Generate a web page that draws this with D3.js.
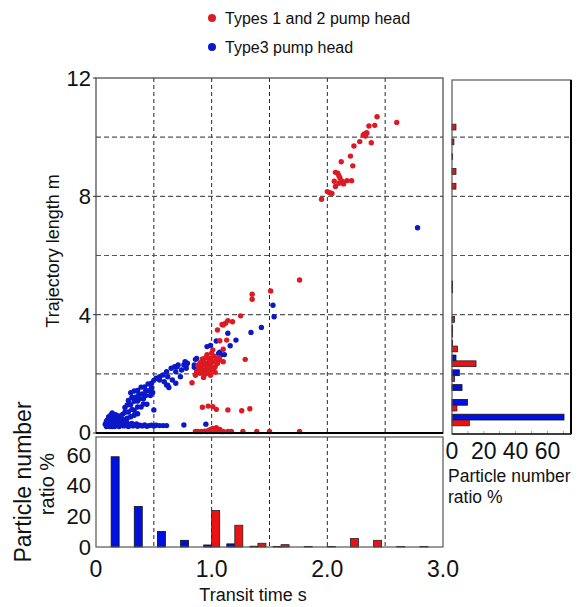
<!DOCTYPE html>
<html><head><meta charset="utf-8">
<script src="https://cdn.jsdelivr.net/npm/d3@7"></script>
<style>body{margin:0;background:#fff}svg{display:block}text{font-family:"Liberation Sans",Arial,sans-serif;fill:#111}</style>
</head><body><svg id="c" width="587" height="607"></svg>
<script>
// ---------- DATA ----------
const seriesNames = ["Types 1 and 2 pump head", "Type3 pump head"];
const redPoints = [
[2.43,10.69],[2.60,10.50],[2.41,10.40],[2.36,10.38],[2.34,10.13],[2.32,10.11],[2.34,10.15],[2.31,10.07],[2.33,10.04],[2.38,9.81],
[2.28,9.85],[2.23,9.70],[2.20,9.36],[2.12,9.17],[2.22,9.03],[2.07,8.81],[2.09,8.78],[2.10,8.70],[2.11,8.61],[2.17,8.53],
[2.21,8.53],[2.06,8.51],[2.13,8.50],[2.14,8.42],[2.10,8.44],[2.07,8.33],[2.00,8.16],[2.02,8.12],[2.04,8.10],[1.95,7.90],
[1.76,5.17],[1.51,4.80],[1.35,4.69],[1.35,4.52],[1.25,3.96],[1.18,3.76],[1.14,3.80],[1.12,3.71],[1.09,3.67],[1.10,3.65],
[1.05,3.48],[1.13,3.14],[1.07,3.12],[1.01,2.81],[1.10,2.83],[1.29,2.49],[0.83,1.70],
[1.02,2.60],[1.04,2.49],[0.99,2.52],[0.97,2.38],[0.93,2.41],[0.91,2.24],[0.89,2.15],[0.94,2.13],[0.96,2.24],[0.99,2.32],
[1.00,2.13],[0.90,2.02],[0.87,2.07],[0.93,1.88],[0.97,2.02],[1.01,2.41],[1.10,2.41],[1.03,2.24],
[0.95,2.30],[0.92,2.32],[0.98,2.45],[0.95,2.55],[1.00,2.70],[0.96,2.65],[0.91,2.10],[0.88,2.28],[0.94,1.98],[0.98,2.18],
[1.02,2.20],[1.05,2.35],[1.03,2.05],[0.86,1.95],[0.92,2.50],[0.99,1.95],[1.06,2.55],[0.90,2.38],[0.95,2.08],[1.07,2.47],
[0.92,0.87],[0.97,0.91],[1.01,0.89],[1.04,0.80],[1.14,0.78],[1.26,0.75],[1.33,0.82],
[0.86,0.05],[0.88,0.05],[0.91,0.05],[0.94,0.06],[0.97,0.08],[0.99,0.12],[1.01,0.15],[1.04,0.18],[1.07,0.12],[1.10,0.05],
[1.14,0.05],[1.17,0.05],[1.27,0.05],[1.39,0.05],[1.50,0.05],[1.76,0.05],[0.96,0.05],[1.02,0.05],[1.05,0.06],[1.08,0.05]
];
const bluePoints = [
[0.09,0.22],[0.10,0.28],[0.11,0.35],[0.12,0.22],[0.12,0.42],[0.13,0.30],[0.13,0.50],[0.14,0.22],[0.14,0.38],[0.15,0.28],
[0.15,0.45],[0.16,0.55],[0.16,0.22],[0.17,0.33],[0.17,0.62],[0.18,0.25],[0.18,0.42],[0.19,0.50],[0.19,0.30],[0.20,0.22],
[0.20,0.58],[0.21,0.38],[0.22,0.26],[0.22,0.47],[0.10,0.45],[0.11,0.55],[0.13,0.62],[0.08,0.30],[0.09,0.40],[0.14,0.68],
[0.12,0.33],[0.16,0.40],[0.18,0.33],[0.20,0.30],[0.15,0.60],
[0.24,0.24],[0.26,0.28],[0.28,0.22],[0.30,0.26],[0.32,0.24],[0.34,0.28],[0.36,0.23],[0.38,0.26],[0.40,0.24],[0.42,0.27],
[0.44,0.23],[0.46,0.25],[0.48,0.26],[0.50,0.24],[0.52,0.26],[0.55,0.25],[0.58,0.25],[0.61,0.25],[0.27,0.33],[0.31,0.32],
[0.35,0.31],[0.25,0.35],
[0.23,0.63],[0.25,0.70],[0.28,0.71],[0.31,0.80],[0.33,0.77],[0.36,0.88],[0.39,0.88],[0.41,0.98],[0.44,0.97],
[0.25,0.86],[0.27,0.95],[0.30,0.96],[0.33,1.07],[0.36,1.08],[0.38,1.16],[0.41,1.16],[0.43,1.27],[0.47,1.27],[0.49,1.37],
[0.28,1.10],[0.31,1.20],[0.34,1.21],[0.37,1.31],[0.40,1.32],[0.43,1.44],[0.46,1.43],[0.48,1.54],
[0.30,1.36],[0.33,1.42],[0.36,1.44],[0.39,1.55],[0.42,1.56],[0.45,1.66],[0.48,1.68],[0.50,1.78],
[0.24,0.45],[0.27,0.50],[0.30,0.55],[0.33,0.60],[0.36,0.65],[0.26,0.40],
[0.55,1.90],[0.58,1.96],[0.61,2.07],[0.62,1.90],[0.65,2.19],[0.68,2.24],[0.69,2.07],[0.71,2.30],[0.74,2.13],[0.76,2.30],
[0.79,2.36],[0.78,2.19],[0.87,2.52],[0.85,2.30],[0.59,1.73],[0.62,1.62],[0.66,1.79],[0.69,1.68],[0.63,1.54],[0.55,1.79],
[0.52,1.85],[0.70,2.24],[0.61,1.62],[0.73,1.90],[0.77,2.41],[0.78,2.30],
[0.85,2.22],[0.86,2.49],[0.96,2.92],[0.99,2.96],[1.04,3.11],[1.06,2.69],[1.07,2.73],[1.08,2.64],[1.11,2.65],[1.14,3.37],
[1.16,2.95],[1.21,3.14],[1.34,3.40],[1.43,3.57],[1.53,4.32],[1.54,3.93],[2.78,6.94],
[0.76,0.27],[0.95,0.30],[0.50,0.78]
];
// bottom histogram: transit-time bins (s), ratio %
const timeBins  = [0.2,0.4,0.6,0.8,1.0,1.2,1.4,1.6,1.8,2.0,2.2,2.4,2.6,2.8];
const timeBlue  = [58,26,10,4.3,1.3,2,0.5,0.4,0,0,0,0,0,0];
const timeRed   = [0,0,0,0,23.4,14,2.4,1.5,0.4,0.4,5.4,4.3,0.4,0.4];
// right histogram: trajectory-length bins (m), ratio %
const lenBins = [0.5,1.0,1.5,2.0,2.5,3.0,3.5,4.0,4.5,5.0,8.5,9.0,9.5,10.0,10.5];
const lenBlue = [70.4,9.8,6.3,4.6,2.5,0.4,0.4,0,0,0.4,0,0,0,0,0];
const lenRed  = [10.9,3.1,0,1.6,15.1,3.5,0.4,1.6,0,0.4,2.5,2.5,0.4,1.2,2.5];
const xTicks = [0,1,2,3], xTickLabels = ["0","1.0","2.0","3.0"];
const yTicks = [0,4,8,12];
const histYTicks = [0,20,40,60];
const rightXTicks = [0,20,40,60];

// ---------- DRAW ----------
const RED = "#dc1a24", BLUE = "#0b18c8";
const svg = d3.select("#c");
const x = d3.scaleLinear().domain([0,3]).range([96,443]);
const y = d3.scaleLinear().domain([0,12]).range([433,78]);
const hy = d3.scaleLinear().domain([0,70.7]).range([547,437]);
const rx = d3.scaleLinear().domain([0,74.8]).range([452,571]);

// grid: vertical lines (main + bottom hist)
const vg = [0.5,1,1.5,2,2.5];
svg.append("g").selectAll("line").data(vg).join("line")
  .attr("x1",d=>x(d)).attr("x2",d=>x(d)).attr("y1",78).attr("y2",433)
  .attr("stroke","#111").attr("stroke-width",0.9).attr("stroke-dasharray","4,3");
svg.append("g").selectAll("line").data(vg).join("line")
  .attr("x1",d=>x(d)).attr("x2",d=>x(d)).attr("y1",437).attr("y2",547)
  .attr("stroke","#111").attr("stroke-width",0.9).attr("stroke-dasharray","4,3");
// horizontal grid (main + right hist)
const hg = [2,4,6,8,10];
svg.append("g").selectAll("line").data(hg).join("line")
  .attr("x1",96).attr("x2",443).attr("y1",d=>y(d)).attr("y2",d=>y(d))
  .attr("stroke","#555").attr("stroke-width",1.1).attr("stroke-dasharray","5,3");
svg.append("g").selectAll("line").data(hg).join("line")
  .attr("x1",452).attr("x2",571).attr("y1",d=>y(d)).attr("y2",d=>y(d))
  .attr("stroke","#555").attr("stroke-width",1.1).attr("stroke-dasharray","5,3");

// scatter
svg.append("g").selectAll("circle").data(bluePoints).join("circle")
  .attr("cx",d=>x(d[0])).attr("cy",d=>y(d[1])).attr("r",2.7).attr("fill",BLUE);
svg.append("g").selectAll("circle").data(redPoints).join("circle")
  .attr("cx",d=>x(d[0])).attr("cy",d=>y(d[1])).attr("r",2.7).attr("fill",RED);

// bottom histogram bars
const bw = 8;
svg.append("g").selectAll("rect").data(timeBins.map((b,i)=>({b,v:timeBlue[i]})).filter(d=>d.v>0)).join("rect")
  .attr("x",d=>x(d.b)-bw).attr("width",bw).attr("y",d=>hy(d.v)).attr("height",d=>hy(0)-hy(d.v))
  .attr("fill","#0010e0").attr("stroke","#111").attr("stroke-width",0.8);
svg.append("g").selectAll("rect").data(timeBins.map((b,i)=>({b,v:timeRed[i]})).filter(d=>d.v>0)).join("rect")
  .attr("x",d=>x(d.b)).attr("width",bw).attr("y",d=>hy(d.v)).attr("height",d=>hy(0)-hy(d.v))
  .attr("fill","#ee1111").attr("stroke","#222").attr("stroke-width",0.8);

// right histogram bars
svg.append("g").selectAll("rect").data(lenBins.map((b,i)=>({b,v:lenBlue[i]})).filter(d=>d.v>0)).join("rect")
  .attr("x",rx(0)).attr("width",d=>rx(d.v)-rx(0)).attr("y",d=>y(d.b)-4).attr("height",5.8)
  .attr("fill","#0010e0").attr("stroke","#111").attr("stroke-width",0.8);
svg.append("g").selectAll("rect").data(lenBins.map((b,i)=>({b,v:lenRed[i]})).filter(d=>d.v>0)).join("rect")
  .attr("x",rx(0)).attr("width",d=>rx(d.v)-rx(0)).attr("y",d=>y(d.b)+1.8).attr("height",5.8)
  .attr("fill","#ee1111").attr("stroke","#222").attr("stroke-width",0.8);
// right hist minor ticks
svg.append("g").selectAll("line").data(d3.range(10,75,10)).join("line")
  .attr("x1",d=>rx(d)).attr("x2",d=>rx(d)).attr("y1",434).attr("y2",431)
  .attr("stroke","#888").attr("stroke-width",0.8);

// frames
function frame(x0,y0,x1,y1,col){
  svg.append("rect").attr("x",x0).attr("y",y0).attr("width",x1-x0).attr("height",y1-y0)
    .attr("fill","none").attr("stroke",col).attr("stroke-width",1.2);
}
frame(96,78,443,433,"#444");
svg.append("line").attr("x1",96).attr("x2",443).attr("y1",433).attr("y2",433).attr("stroke","#000").attr("stroke-width",2);
frame(96,437,443,547,"#555");
frame(452,80,571,434,"#555");
svg.append("line").attr("x1",571).attr("x2",571).attr("y1",80).attr("y2",434).attr("stroke","#000").attr("stroke-width",2);
svg.append("line").attr("x1",452).attr("x2",571).attr("y1",434).attr("y2",434).attr("stroke","#222").attr("stroke-width",1.5);

// main y axis
svg.append("g").selectAll("line").data(yTicks).join("line")
  .attr("x1",93).attr("x2",96).attr("y1",d=>y(d)).attr("y2",d=>y(d)).attr("stroke","#333");
svg.append("g").selectAll("text").data(yTicks).join("text")
  .attr("x",91).attr("y",d=>y(d)-(d===0?1:0)).attr("dy","0.36em").attr("text-anchor","end")
  .attr("font-size",22).text(d=>d);
svg.append("text").attr("transform","translate(59,251) rotate(-90)").attr("text-anchor","middle")
  .attr("font-size",18).text("Trajectory length m");

// bottom hist y axis
svg.append("g").selectAll("text").data(histYTicks).join("text")
  .attr("x",91).attr("y",d=>hy(d)+(d===60?1:0)).attr("dy","0.36em").attr("text-anchor","end")
  .attr("font-size",22).text(d=>d);
svg.append("text").attr("transform","translate(31,482) rotate(-90)").attr("text-anchor","middle")
  .attr("font-size",23).text("Particle number");
svg.append("text").attr("transform","translate(54,484) rotate(-90)").attr("text-anchor","middle")
  .attr("font-size",20).text("ratio %");

// x axis
svg.append("g").selectAll("text").data(xTicks).join("text")
  .attr("x",d=>x(d)).attr("y",577).attr("text-anchor","middle")
  .attr("font-size",23).text((d,i)=>xTickLabels[i]);
svg.append("text").attr("x",253).attr("y",601).attr("text-anchor","middle")
  .attr("font-size",18).text("Transit time s");

// right hist x axis
svg.append("g").selectAll("text").data(rightXTicks).join("text")
  .attr("x",d=>rx(d)).attr("y",459).attr("text-anchor","middle")
  .attr("font-size",23).text(d=>d);
svg.append("text").attr("x",448).attr("y",482).attr("font-size",17.5).text("Particle number");
svg.append("text").attr("x",448).attr("y",503).attr("font-size",17.5).text("ratio %");

// legend
const leg = svg.append("g");
[RED,BLUE].forEach((c,i)=>{
  leg.append("circle").attr("cx",212).attr("cy",18+i*29).attr("r",4).attr("fill",c);
  leg.append("text").attr("x",225).attr("y",18+i*29).attr("dy","0.36em").attr("font-size",16).text(seriesNames[i]);
});
</script></body></html>
